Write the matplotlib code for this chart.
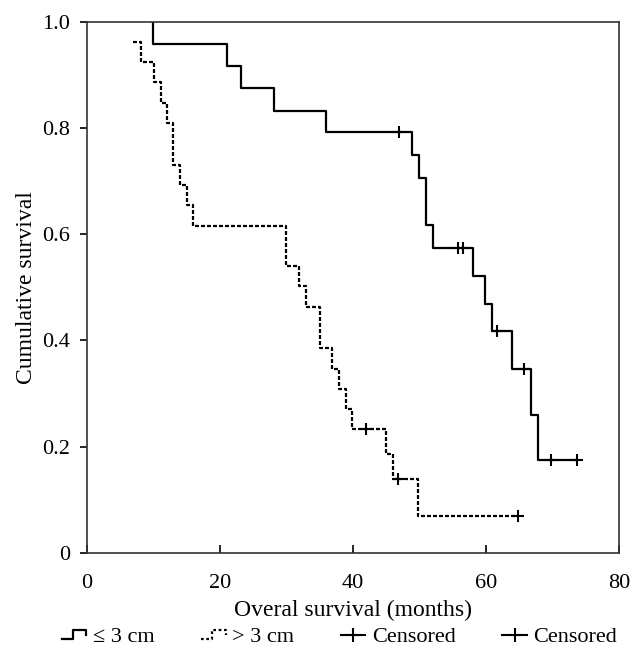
import matplotlib
matplotlib.use("Agg")
import matplotlib.pyplot as plt
import numpy as np
from matplotlib.legend_handler import HandlerBase
from matplotlib.lines import Line2D

plt.rcParams["font.family"] = ["Liberation Serif", "DejaVu Serif"]

# Tumour size <= 3 cm: event times (months) and survival after each event
small_t = [10.0, 21.0, 23.1, 28.1, 35.9, 48.8, 49.9, 50.9, 52.0, 58.0, 59.8, 60.9, 63.9, 66.8, 67.8]
small_s = [0.958, 0.917, 0.875, 0.833, 0.792, 0.749, 0.706, 0.617, 0.574, 0.521, 0.469, 0.418, 0.347, 0.260, 0.175]
small_start = 1.0
small_end = 73.7
small_cens = [46.9, 55.8, 56.6, 61.6, 65.7, 69.7, 73.7]

# Tumour size > 3 cm
large_t = [8.1, 10.1, 11.1, 12.1, 13.0, 14.0, 15.0, 16.0, 29.9, 31.9, 33.0, 35.0, 36.9, 37.9, 38.9, 39.9, 45.0, 46.0, 49.8]
large_s = [0.925, 0.887, 0.848, 0.809, 0.731, 0.693, 0.655, 0.616, 0.540, 0.502, 0.463, 0.386, 0.347, 0.309, 0.271, 0.233, 0.187, 0.139, 0.070]
large_first = (7.0, 0.963)
large_end = 64.8
large_cens = [41.9, 46.8, 64.8]


def step_value(t, times, surv, first):
    i = np.searchsorted(times, t, side="right")
    return first if i == 0 else surv[i - 1]


class StepHandler(HandlerBase):
    def create_artists(self, legend, orig_handle, xdescent, ydescent,
                       width, height, fontsize, trans):
        x0, w = -xdescent, width
        y0, h = -ydescent, height
        xs = [x0, x0 + 0.45 * w, x0 + 0.45 * w, x0 + w, x0 + w]
        ys = [y0 + 0.25 * h, y0 + 0.25 * h, y0 + 0.8 * h, y0 + 0.8 * h, y0 + 0.45 * h]
        ln = Line2D(xs, ys, color="black", lw=orig_handle.get_linewidth(),
                    linestyle=orig_handle.get_linestyle(), transform=trans)
        if orig_handle.get_linestyle() != "-":
            ln.set_dashes((1.2, 1.2))
        return [ln]


fig = plt.figure(figsize=(6.43, 6.48), dpi=100)
ax = fig.add_axes([0.135, 0.147, 0.828, 0.819])

xs = [small_t[0]] + small_t + [small_end]
ys = [small_start] + small_s + [small_s[-1]]
l1, = ax.step(xs, ys, where="post", color="black", lw=1.6)

xl = [large_first[0]] + large_t + [large_end]
yl = [large_first[1]] + large_s + [large_s[-1]]
l2, = ax.step(xl, yl, where="post", color="black", lw=1.6, dashes=(1.8, 0.9))

cy_s = [step_value(t, small_t, small_s, small_start) for t in small_cens]
cy_l = [step_value(t, large_t, large_s, large_first[1]) for t in large_cens]
ax.plot(small_cens, cy_s, "k+", ms=8, mew=1.5)
ax.plot(large_cens, cy_l, "k+", ms=8, mew=1.5)

ax.set_xlim(0, 80)
ax.set_ylim(0, 1.0)
ax.set_xticks([0, 20, 40, 60, 80])
ax.set_yticks([0, 0.2, 0.4, 0.6, 0.8, 1.0])
ax.set_yticklabels(["0", "0.2", "0.4", "0.6", "0.8", "1.0"])
ax.tick_params(axis="x", direction="in", length=6, width=1.2, labelsize=16, pad=15)
ax.tick_params(axis="y", direction="out", length=5, width=1.2, labelsize=16, pad=7)
for sp in ax.spines.values():
    sp.set_linewidth(1.2)
    sp.set_color("#333333")

ax.set_xlabel("Overal survival (months)", fontsize=17, labelpad=5)
ax.set_ylabel("Cumulative survival", fontsize=17, labelpad=4)

cens1 = Line2D([], [], color="black", lw=1.5, marker="+", ms=10, mew=1.5)
cens2 = Line2D([], [], color="black", lw=1.5, marker="+", ms=10, mew=1.5)
fig.legend([l1, l2, cens1, cens2], ["≤ 3 cm", "> 3 cm", "Censored", "Censored"],
           loc="lower center", bbox_to_anchor=(0.528, -0.03), ncol=4, frameon=False,
           fontsize=16, handlelength=1.1, handletextpad=0.3, columnspacing=2.1,
           handler_map={l1: StepHandler(), l2: StepHandler()})

fig.savefig("out.png", dpi=100)
